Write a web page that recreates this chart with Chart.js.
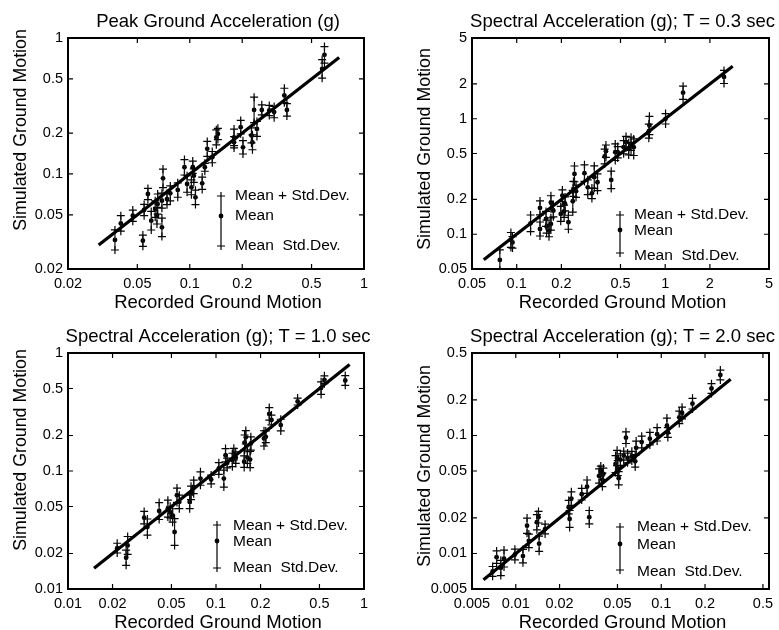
<!DOCTYPE html>
<html lang="en">
<head>
<meta charset="UTF-8">
<title>Simulated vs Recorded Ground Motion</title>
<script src="https://cdn.jsdelivr.net/npm/chart.js"></script>
<style>
  body { margin: 0; background: #fff; }
  #wrap { position: relative; width: 779px; height: 630px; }
  #wrap canvas { position: absolute; left: 0; top: 0; width: 779px; height: 630px; }
</style>
</head>
<body>
<div id="wrap">
  <canvas id="pga" width="779" height="630"></canvas>
  <canvas id="sa03" width="779" height="630"></canvas>
  <canvas id="sa10" width="779" height="630"></canvas>
  <canvas id="sa20" width="779" height="630"></canvas>
</div>
<script>
// --- Peak Ground Acceleration ---
const pgaRecorded = [0.0372, 0.0402, 0.0471, 0.0538, 0.0547, 0.0575, 0.0601, 0.0633, 0.0648, 0.0654, 0.0692, 0.0702, 0.0692, 0.074, 0.0773, 0.0853, 0.0932, 0.0965, 0.1022, 0.104, 0.1055, 0.1078, 0.1178, 0.122, 0.126, 0.1346, 0.142, 0.145, 0.1795, 0.1795, 0.196, 0.202, 0.226, 0.229, 0.234, 0.243, 0.259, 0.286, 0.305, 0.349, 0.361, 0.575, 0.593];
const pgaMean = [0.0327, 0.0433, 0.0493, 0.0323, 0.0543, 0.0712, 0.0453, 0.0552, 0.0493, 0.0601, 0.0405, 0.0929, 0.0636, 0.0654, 0.072, 0.0762, 0.112, 0.0844, 0.0798, 0.112, 0.0972, 0.0673, 0.0854, 0.112, 0.153, 0.133, 0.186, 0.197, 0.186, 0.171, 0.221, 0.157, 0.192, 0.171, 0.296, 0.2145, 0.296, 0.293, 0.285, 0.378, 0.296, 0.593, 0.752];
const pgaStd = [1.185, 1.14, 1.10, 1.10, 1.10, 1.10, 1.17, 1.15, 1.15, 1.185, 1.17, 1.17, 1.135, 1.10, 1.135, 1.13, 1.14, 1.15, 1.135, 1.11, 1.12, 1.13, 1.11, 1.07, 1.135, 1.10, 1.135, 1.10, 1.15, 1.10, 1.12, 1.12, 1.135, 1.135, 1.24, 1.135, 1.09, 1.09, 1.10, 1.13, 1.11, 1.17, 1.15];
const pgaFit = [0.03, 0.72];
const pgaTicks = [0.02, 0.05, 0.1, 0.2, 0.5, 1];
const pgaTickLabels = ['0.02', '0.05', '0.1', '0.2', '0.5', '1'];

// --- Spectral acceleration, T = 0.3 sec ---
const sa03Recorded = [0.077, 0.0914, 0.0937, 0.124, 0.1435, 0.1435, 0.1575, 0.159, 0.165, 0.170, 0.170, 0.1766, 0.198, 0.203, 0.2085, 0.2117, 0.223, 0.2386, 0.241, 0.245, 0.251, 0.286, 0.301, 0.321, 0.333, 0.350, 0.391, 0.399, 0.433, 0.461, 0.479, 0.525, 0.545, 0.568, 0.589, 0.614, 0.776, 0.783, 1.006, 1.32, 2.49];
const sa03Mean = [0.0599, 0.0892, 0.085, 0.1244, 0.169, 0.111, 0.1357, 0.1164, 0.1075, 0.1228, 0.189, 0.160, 0.150, 0.216, 0.158, 0.183, 0.127, 0.193, 0.247, 0.333, 0.236, 0.338, 0.255, 0.226, 0.312, 0.282, 0.471, 0.524, 0.2955, 0.513, 0.513, 0.567, 0.627, 0.549, 0.607, 0.567, 0.781, 0.875, 0.999, 1.68, 2.30];
const sa03Std = [1.22, 1.16, 1.12, 1.18, 1.15, 1.15, 1.16, 1.14, 1.13, 1.13, 1.14, 1.13, 1.16, 1.12, 1.13, 1.15, 1.15, 1.24, 1.16, 1.17, 1.13, 1.18, 1.16, 1.11, 1.25, 1.18, 1.16, 1.13, 1.19, 1.18, 1.12, 1.14, 1.12, 1.13, 1.14, 1.18, 1.15, 1.2, 1.11, 1.14, 1.14];
const sa03Fit = [0.06, 2.85];
const sa03Ticks = [0.05, 0.1, 0.2, 0.5, 1, 2, 5];
const sa03TickLabels = ['0.05', '0.1', '0.2', '0.5', '1', '2', '5'];

// --- Spectral acceleration, T = 1.0 sec ---
const sa10Recorded = [0.0215, 0.0247, 0.0253, 0.0327, 0.0344, 0.0413, 0.0473, 0.049, 0.0509, 0.0525, 0.0545, 0.0565, 0.0664, 0.0678, 0.0707, 0.0785, 0.0927, 0.1045, 0.113, 0.116, 0.119, 0.129, 0.132, 0.136, 0.155, 0.156, 0.159, 0.163, 0.17, 0.172, 0.211, 0.217, 0.229, 0.237, 0.274, 0.356, 0.513, 0.540, 0.747];
const sa10Mean = [0.0222, 0.0184, 0.0234, 0.0402, 0.0335, 0.0458, 0.048, 0.0449, 0.042, 0.0304, 0.0623, 0.0547, 0.0547, 0.0652, 0.0733, 0.0863, 0.0847, 0.105, 0.0863, 0.136, 0.117, 0.124, 0.139, 0.130, 0.12, 0.174, 0.193, 0.130, 0.125, 0.171, 0.189, 0.195, 0.305, 0.271, 0.245, 0.388, 0.504, 0.593, 0.585];
const sa10Std = [1.10, 1.16, 1.19, 1.13, 1.17, 1.18, 1.18, 1.12, 1.14, 1.3, 1.15, 1.14, 1.14, 1.14, 1.14, 1.14, 1.09, 1.12, 1.18, 1.14, 1.1, 1.14, 1.12, 1.12, 1.12, 1.16, 1.14, 1.12, 1.17, 1.14, 1.16, 1.12, 1.13, 1.1, 1.12, 1.07, 1.13, 1.08, 1.1];
const sa10Fit = [0.015, 0.8];
const sa10Ticks = [0.01, 0.02, 0.05, 0.1, 0.2, 0.5, 1];
const sa10TickLabels = ['0.01', '0.02', '0.05', '0.1', '0.2', '0.5', '1'];

// --- Spectral acceleration, T = 2.0 sec ---
const sa20Recorded = [0.00693, 0.00738, 0.00789, 0.0083, 0.00986, 0.0112, 0.01195, 0.0123, 0.01396, 0.01433, 0.01447, 0.0159, 0.0231, 0.02345, 0.0241, 0.0284, 0.0309, 0.032, 0.0374, 0.0384, 0.0394, 0.040, 0.0485, 0.0497, 0.0502, 0.051, 0.0524, 0.0552, 0.0572, 0.0587, 0.0628, 0.0662, 0.0672, 0.0734, 0.0835, 0.0937, 0.1094, 0.111, 0.133, 0.139, 0.164, 0.2215, 0.2548];
const sa20Mean = [0.00705, 0.0093, 0.00754, 0.00906, 0.0098, 0.0095, 0.0172, 0.0128, 0.0184, 0.0203, 0.0121, 0.0161, 0.0247, 0.0196, 0.0292, 0.0318, 0.0368, 0.0203, 0.0454, 0.05, 0.042, 0.0473, 0.0573, 0.0645, 0.0529, 0.0434, 0.0624, 0.0675, 0.0958, 0.0645, 0.0667, 0.0604, 0.0786, 0.088, 0.094, 0.1024, 0.121, 0.106, 0.1425, 0.155, 0.186, 0.25, 0.3255];
const sa20Std = [1.1, 1.13, 1.16, 1.18, 1.11, 1.14, 1.16, 1.14, 1.16, 1.12, 1.16, 1.1, 1.14, 1.18, 1.14, 1.12, 1.14, 1.14, 1.15, 1.1, 1.14, 1.12, 1.18, 1.16, 1.16, 1.14, 1.12, 1.09, 1.12, 1.1, 1.1, 1.12, 1.14, 1.12, 1.13, 1.14, 1.16, 1.1, 1.13, 1.12, 1.11, 1.1, 1.1];
const sa20Fit = [0.006, 0.3];
const sa20Ticks = [0.005, 0.01, 0.02, 0.05, 0.1, 0.2, 0.5];
const sa20TickLabels = ['0.005', '0.01', '0.02', '0.05', '0.1', '0.2', '0.5'];

const legendTexts = ['Mean + Std.Dev.', 'Mean', 'Mean  Std.Dev.'];

const FONT = '"Liberation Sans", Arial, Helvetica, sans-serif';
Chart.defaults.font.family = FONT;
Chart.defaults.color = '#000';

// frame, inward ticks, titles and the little errorbar legend
const decor = {
    id: 'decor',
    afterDraw(chart, args, o) {
        const ctx = chart.ctx;
        const xs = chart.scales.x, ys = chart.scales.y;
        const L = o.box.left, R = o.box.right, T = o.box.top, B = o.box.bottom;
        ctx.save();
        ctx.fillStyle = '#000';
        ctx.strokeStyle = '#000';
        ctx.lineWidth = 2;
        ctx.beginPath();
        ctx.rect(L, T, R - L, B - T);
        ctx.stroke();

        ctx.lineWidth = 1.2;
        ctx.beginPath();
        xs.ticks.forEach(t => {
            const px = xs.getPixelForValue(t.value);
            ctx.moveTo(px, B); ctx.lineTo(px, B - 5);
            ctx.moveTo(px, T); ctx.lineTo(px, T + 5);
        });
        ys.ticks.forEach(t => {
            const py = ys.getPixelForValue(t.value);
            ctx.moveTo(L, py); ctx.lineTo(L + 5, py);
            ctx.moveTo(R, py); ctx.lineTo(R - 5, py);
        });
        ctx.stroke();

        const cx = (L + R) / 2 + 2;
        ctx.textAlign = 'center';
        ctx.textBaseline = 'alphabetic';
        ctx.font = '18.5px ' + FONT;
        ctx.fillText(o.title, cx, T - 11.5);
        ctx.fillText('Recorded Ground Motion', cx, B + 39);
        ctx.save();
        ctx.translate(L - 47, o.yTitleY);
        ctx.rotate(-Math.PI / 2);
        ctx.textBaseline = 'middle';
        ctx.font = '17.8px ' + FONT;
        ctx.fillText('Simulated Ground Motion', 0, 0);
        ctx.restore();

        // legend
        const lg = o.legend;
        ctx.lineWidth = 1.2;
        ctx.beginPath();
        ctx.moveTo(lg.x, lg.top); ctx.lineTo(lg.x, lg.bottom);
        [lg.top, lg.bottom].forEach(y => {
            ctx.moveTo(lg.x - 4, y); ctx.lineTo(lg.x + 4, y);
            ctx.moveTo(lg.x, y - 4); ctx.lineTo(lg.x, y + 4);
        });
        ctx.stroke();
        ctx.beginPath();
        ctx.arc(lg.x, lg.mid, 2.4, 0, Math.PI * 2);
        ctx.fill();
        ctx.textAlign = 'left';
        ctx.textBaseline = 'middle';
        ctx.font = '15.5px ' + FONT;
        legendTexts.forEach((s, i) => ctx.fillText(s, lg.textX, lg.rows[i]));
        ctx.restore();
    }
};

function logAxis(min, max, ticks, labels, isX) {
    return {
        type: 'logarithmic',
        min: min,
        max: max,
        position: isX ? 'bottom' : 'left',
        grid: { display: false, drawTicks: false },
        border: { display: false },
        afterBuildTicks: s => { s.ticks = ticks.map(v => ({ value: v })); },
        afterFit: s => { if (isX) s.height = 30; else s.width = 60; },
        ticks: {
            autoSkip: false, maxRotation: 0, minRotation: 0,
            padding: isX ? 6 : 5,
            font: { size: 14.5 },
            color: '#000',
            callback: (v, i) => labels[i]
        }
    };
}

function makePanel(id, p) {
    const bars = [], plus = [], means = [];
    p.recorded.forEach((x, i) => {
        const lo = p.mean[i] / p.std[i], hi = p.mean[i] * p.std[i];
        bars.push({ x: x, y: lo }, { x: x, y: hi }, { x: x, y: null });
        plus.push({ x: x, y: lo }, { x: x, y: hi });
        means.push({ x: x, y: p.mean[i] });
    });
    const b = p.box;
    new Chart(document.getElementById(id), {
        type: 'scatter',
        data: {
            datasets: [
                { data: p.fit.map(v => ({ x: v, y: v })), showLine: true, borderColor: '#000', borderWidth: 3.2, pointRadius: 0 },
                { data: bars, showLine: true, spanGaps: false, borderColor: '#111', borderWidth: 1.2, pointRadius: 0 },
                { data: plus, pointStyle: 'cross', pointRadius: 4, borderColor: '#000', borderWidth: 1.2 },
                { data: means, pointStyle: 'circle', pointRadius: 2.4, backgroundColor: '#000', borderWidth: 0 }
            ]
        },
        options: {
            responsive: false,
            animation: false,
            events: [],
            layout: { padding: { left: b.left - 60, right: 779 - b.right, top: b.top, bottom: 630 - b.bottom - 30 } },
            scales: {
                x: logAxis(p.ticks[0], p.ticks[p.ticks.length - 1], p.ticks, p.labels, true),
                y: logAxis(p.ticks[0], p.ticks[p.ticks.length - 1], p.ticks, p.labels, false)
            },
            plugins: {
                legend: { display: false },
                tooltip: { enabled: false },
                decor: { title: p.title, yTitleY: p.yTitleY, legend: p.legend, box: b }
            }
        },
        plugins: [decor]
    });
}

makePanel('pga', {
    title: 'Peak Ground Acceleration (g)',
    recorded: pgaRecorded, mean: pgaMean, std: pgaStd, fit: pgaFit, ticks: pgaTicks, labels: pgaTickLabels,
    box: { left: 68, right: 364, top: 38, bottom: 269 }, yTitleY: 130,
    legend: { x: 221, top: 196, mid: 216, bottom: 246, textX: 235, rows: [196, 216, 246] }
});
makePanel('sa03', {
    title: 'Spectral Acceleration (g); T = 0.3 sec',
    recorded: sa03Recorded, mean: sa03Mean, std: sa03Std, fit: sa03Fit, ticks: sa03Ticks, labels: sa03TickLabels,
    box: { left: 472, right: 769, top: 38, bottom: 269 }, yTitleY: 149,
    legend: { x: 620, top: 215, mid: 230, bottom: 253, textX: 634, rows: [215, 231, 256] }
});
makePanel('sa10', {
    title: 'Spectral Acceleration (g); T = 1.0 sec',
    recorded: sa10Recorded, mean: sa10Mean, std: sa10Std, fit: sa10Fit, ticks: sa10Ticks, labels: sa10TickLabels,
    box: { left: 68, right: 364, top: 353, bottom: 589 }, yTitleY: 450,
    legend: { x: 217, top: 525, mid: 541, bottom: 568, textX: 233, rows: [526, 542, 568] }
});
makePanel('sa20', {
    title: 'Spectral Acceleration (g); T = 2.0 sec',
    recorded: sa20Recorded, mean: sa20Mean, std: sa20Std, fit: sa20Fit, ticks: sa20Ticks, labels: sa20TickLabels,
    box: { left: 472, right: 769, top: 353, bottom: 589 }, yTitleY: 466,
    legend: { x: 620, top: 527, mid: 544, bottom: 570, textX: 637, rows: [527, 545, 572] }
});
</script>
</body>
</html>
